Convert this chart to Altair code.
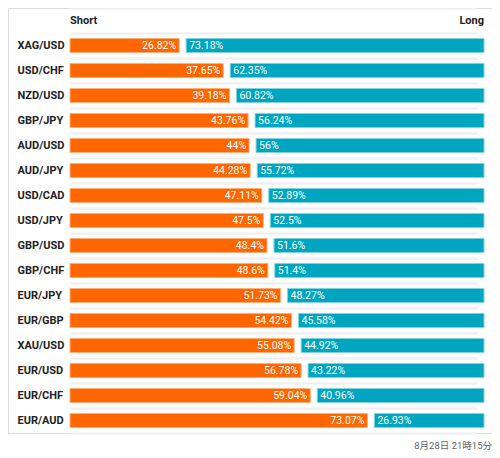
import altair as alt
import pandas as pd

pairs = ["XAG/USD", "USD/CHF", "NZD/USD", "GBP/JPY", "AUD/USD", "AUD/JPY", "USD/CAD", "USD/JPY",
         "GBP/USD", "GBP/CHF", "EUR/JPY", "EUR/GBP", "XAU/USD", "EUR/USD", "EUR/CHF", "EUR/AUD"]
short_pct = [26.82, 37.65, 39.18, 43.76, 44, 44.28, 47.11, 47.5,
             48.4, 48.6, 51.73, 54.42, 55.08, 56.78, 59.04, 73.07]
long_pct = [73.18, 62.35, 60.82, 56.24, 56, 55.72, 52.89, 52.5,
            51.6, 51.4, 48.27, 45.58, 44.92, 43.22, 40.96, 26.93]
headers = ["Short", "Long"]
header_pos = [0, 100]
footer = "8月28日 21時15分"

HEADER_KEY = " "

df = pd.DataFrame({
    "pair": pairs,
    "short": short_pct,
    "long": long_pct,
    "short_lbl": [f"{v:g}%" for v in short_pct],
    "long_lbl": [f"{v:g}%" for v in long_pct],
    "zero": [0] * len(pairs),
    "hundred": [100] * len(pairs),
})
hdf = pd.DataFrame({"pair": [HEADER_KEY] * 2, "pos": header_pos, "label": headers})

FONT = "Roboto"
ydomain = [HEADER_KEY] + pairs
yscale = alt.Scale(domain=ydomain, range=[0, 425], paddingInner=0, paddingOuter=0)
xscale = alt.Scale(domain=[0, 100], range=[62, 469])

yenc = alt.Y("pair:N", scale=yscale, sort=ydomain,
             axis=alt.Axis(title=None, ticks=False, domain=False, grid=True, tickBand="extent",
                           gridColor="#eeeeee", gridWidth=2,
                           labelAlign="left", labelPadding=-9, labelFont=FONT,
                           labelFontSize=11, labelFontWeight="bold", labelColor="#222222",
                           labelExpr="datum.value == ' ' ? '' : datum.value"))

base = alt.Chart(df)

short_bar = base.mark_bar(height=14, color="#ff6600", stroke="#ffb07a", strokeWidth=1).encode(
    y=yenc,
    x=alt.X("zero:Q", scale=xscale, axis=None),
    x2="short:Q",
)
long_bar = base.mark_bar(height=14, color="#00a6c0", stroke="#80d3df", strokeWidth=1,
                         xOffset=7, x2Offset=7).encode(
    y=alt.Y("pair:N"),
    x=alt.X("short:Q"),
    x2="hundred:Q",
)
short_txt = base.mark_text(align="right", baseline="middle", dx=-3, color="white",
                           font=FONT, fontSize=10.5).encode(
    y=alt.Y("pair:N"), x=alt.X("short:Q"), text="short_lbl:N")
long_txt = base.mark_text(align="left", baseline="middle", dx=10, color="white",
                          font=FONT, fontSize=10.5).encode(
    y=alt.Y("pair:N"), x=alt.X("short:Q"), text="long_lbl:N")

hbase = alt.Chart(hdf)
h_short = hbase.transform_filter(alt.datum.pos == 0).mark_text(
    align="left", baseline="middle", font=FONT, fontSize=11, fontWeight="bold", color="#222222").encode(
    y=alt.Y("pair:N"), x=alt.X("pos:Q"), text="label:N")
h_long = hbase.transform_filter(alt.datum.pos == 100).mark_text(
    align="right", baseline="middle", dx=7, font=FONT, fontSize=11, fontWeight="bold", color="#222222").encode(
    y=alt.Y("pair:N"), x=alt.X("pos:Q"), text="label:N")

chart = alt.layer(short_bar, long_bar, short_txt, long_txt, h_short, h_long).properties(
    width=484, height=425,
    autosize=alt.AutoSizeParams(type="none"),
    padding={"left": 0, "top": 0, "right": 0, "bottom": 25},
    title=alt.TitleParams(footer, orient="bottom", anchor="end", font="Roboto, 'Noto Sans CJK JP'",
                          fontSize=9.5, fontWeight="normal", color="#666666", offset=8),
).configure_view(stroke="#eeeeee", strokeWidth=2).configure(background="white")

chart.save("out.html", embed_options={"renderer": "svg", "actions": False})
